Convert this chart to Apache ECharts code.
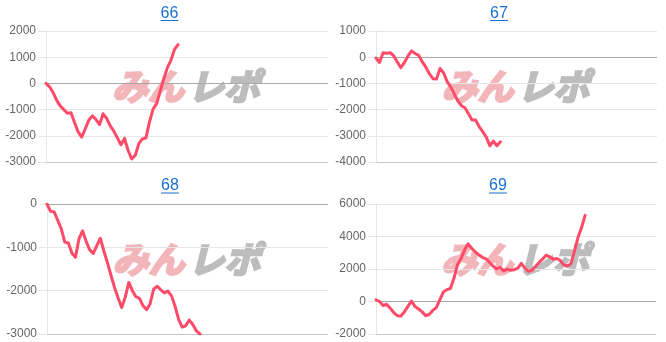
<!DOCTYPE html>
<html>
<head>
<meta charset="utf-8">
<script src="https://cdn.jsdelivr.net/npm/echarts@6/dist/echarts.min.js"></script>
<style>
html,body{margin:0;padding:0;background:#fff;}
#chart{width:666px;height:342px;}
</style>
</head>
<body>
<div id="chart"></div>
<script>
// ---- data ----
const titles = ['66', '67', '68', '69'];
const games = Array.from({length: 80}, (_, i) => String(i + 1));

const machine66 = [0, -130, -350, -650, -860, -1000, -1140, -1120, -1490, -1850,
  -2050, -1730, -1400, -1240, -1380, -1570, -1160, -1340, -1620, -1820,
  -2080, -2340, -2100, -2560, -2880, -2750, -2300, -2120, -2080, -1470,
  -980, -770, -300, 180, 600, 880, 1300, 1480];

const machine67 = [-30, -200, 170, 150, 170, 50, -180, -400, -200, 50,
  240, 140, 70, -170, -380, -630, -820, -830, -430, -600,
  -930, -1130, -1400, -1670, -1850, -1930, -2160, -2400, -2400, -2650,
  -2840, -3050, -3380, -3200, -3380, -3230];

const machine68 = [0, -170, -180, -370, -570, -880, -900, -1130, -1230, -800,
  -620, -860, -1060, -1140, -960, -790, -1090, -1360, -1650, -1930,
  -2170, -2390, -2150, -1810, -2000, -2140, -2180, -2350, -2440, -2300,
  -1960, -1900, -1980, -2050, -2010, -2120, -2360, -2660, -2840, -2810,
  -2680, -2780, -2930, -3000];

const machine69 = [100, 0, -250, -170, -410, -680, -870, -890, -640, -300,
  30, -300, -460, -640, -870, -800, -550, -380, 100, 580,
  730, 800, 1430, 2280, 2640, 3180, 3550, 3270, 3050, 2880,
  2720, 2630, 2420, 2180, 2000, 2100, 1880, 1980, 1920, 1960,
  2050, 2350, 2050, 1850, 1930, 2150, 2400, 2620, 2850, 2750,
  2600, 2650, 2520, 2250, 2170, 2330, 3100, 3950, 4550, 5300];

const yMin = [-3000, -4000, -3000, -2000];
const yMax = [2000, 1000, 0, 6000];
const yStep = [1000, 1000, 1000, 2000];
const seriesData = [machine66, machine67, machine68, machine69];

// ---- layout / style ----
const grids = [
  {left: 46, top: 31, width: 282, height: 131},
  {left: 376, top: 31, width: 281, height: 131},
  {left: 47, top: 204, width: 281, height: 130},
  {left: 376, top: 204, width: 280, height: 130}
];
const titlePos = [[169.5, 13.5, 20.5], [499, 13.5, 20.5], [170, 186, 193], [498, 186, 193]];
const LINE = '#ff4b68';
const GRID_C = '#e6e6e6';
const ZERO_C = '#a9a9a9';
const BASE_C = '#c8c8c8';

function splitColors(k) {
  const cols = [];
  for (let v = yMin[k]; v <= yMax[k] + 1e-9; v += yStep[k]) {
    if (v === 0) cols.push(ZERO_C);
    else if (v === yMin[k]) cols.push(BASE_C);
    else cols.push(GRID_C);
  }
  return cols;
}

const graphics = [];
titles.forEach((t, k) => {
  const [cx, cy, uy] = titlePos[k];
  graphics.push({
    type: 'text', x: cx, y: cy, z: 10,
    style: {text: t, fill: '#1a6fd6', font: '16px "Liberation Sans", Arial, sans-serif',
      textAlign: 'center', textVerticalAlign: 'middle'}
  });
  graphics.push({
    type: 'line', z: 10,
    shape: {x1: cx - 9, y1: uy, x2: cx + 9, y2: uy},
    style: {stroke: '#1a6fd6', lineWidth: 1}
  });
  // watermark
  const g = grids[k];
  const wx = g.left + g.width / 2;
  const wy = k < 2 ? 86 : 259;
  graphics.push({
    type: 'text', x: wx - 3, y: wy, z: -1,
    style: {text: 'みん', fill: '#f2b6ba', stroke: '#f2b6ba', lineWidth: 2.5,
      font: 'italic bold 36px "Noto Sans CJK JP", sans-serif',
      textAlign: 'right', textVerticalAlign: 'middle'}
  });
  graphics.push({
    type: 'text', x: wx + 1, y: wy, z: -1,
    style: {text: 'レポ', fill: '#bdbdbd', stroke: '#bdbdbd', lineWidth: 2.5,
      font: 'italic bold 36px "Noto Sans CJK JP", sans-serif',
      textAlign: 'left', textVerticalAlign: 'middle'}
  });
});

const option = {
  animation: false,
  backgroundColor: '#fff',
  grid: grids,
  xAxis: grids.map((g, k) => ({
    type: 'category', gridIndex: k, data: games, boundaryGap: false,
    axisLine: {show: false}, axisTick: {show: false}, axisLabel: {show: false},
    splitLine: {show: false}
  })),
  yAxis: grids.map((g, k) => ({
    type: 'value', gridIndex: k, min: yMin[k], max: yMax[k], interval: yStep[k], z: 3,
    axisLine: {show: true, lineStyle: {color: '#e6e6e6', width: 1}},
    axisTick: {show: true, length: 8, lineStyle: {color: '#e6e6e6'}},
    axisLabel: {color: '#666', fontSize: 12, margin: 10,
      fontFamily: '"Liberation Sans", Arial, sans-serif',
      formatter: v => String(v)},
    splitLine: {show: true, lineStyle: {color: splitColors(k), width: 1}}
  })),
  series: seriesData.map((d, k) => ({
    type: 'line', xAxisIndex: k, yAxisIndex: k, data: d,
    showSymbol: false, symbol: 'none', z: 5,
    lineStyle: {color: LINE, width: 3, join: 'round', cap: 'round'},
    itemStyle: {color: LINE}
  })),
  graphic: {elements: graphics}
};

const chart = echarts.init(document.getElementById('chart'), null, {renderer: 'canvas'});
chart.setOption(option);
</script>
</body>
</html>
